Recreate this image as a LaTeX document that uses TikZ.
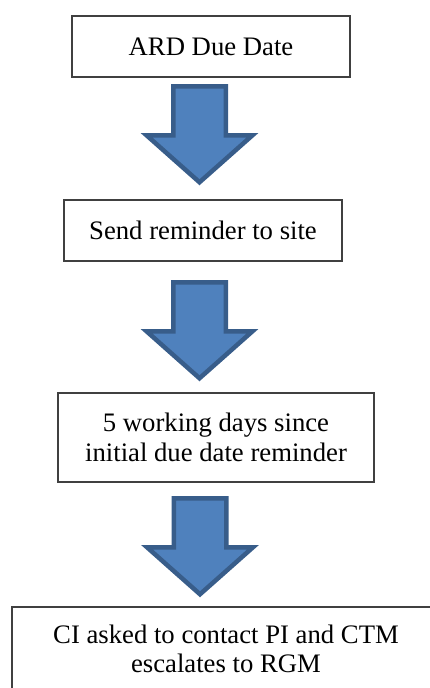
\documentclass[tikz,border=0pt]{standalone}
\usepackage{fontspec}
\setmainfont{Liberation Serif}
\begin{document}
\begin{tikzpicture}[x=1pt,y=-1pt,
  stepbox/.style={draw=black!75,line width=1.2pt,fill=white,align=center,
    inner sep=0pt,font=\fontsize{26.7}{29.5}\selectfont},
  blockarrow/.style={fill=arrowfill,draw=arrowedge,line width=4.5pt,line join=miter},
  downarrow/.pic={\path[blockarrow] (-26.25,0) -- (26.25,0) -- (26.25,49) -- (53,49)
      -- (0,96) -- (-53,49) -- (-26.25,49) -- cycle;}]
\definecolor{arrowfill}{HTML}{4F81BD}
\definecolor{arrowedge}{HTML}{385D8A}
\useasboundingbox (0,0) rectangle (430,688);
\clip (0,0) rectangle (430,688);
\fill[white] (0,0) rectangle (430,688);

% process steps
\node[stepbox,minimum width=278,minimum height=61] (due) at (211,46.5) {ARD Due Date};
\node[stepbox,minimum width=278,minimum height=61] (remind) at (203,230.5) {Send reminder to site};
\node[stepbox,minimum width=316,minimum height=89] (wait) at (216,437.5)
  {5 working days since\\initial due date reminder};
\node[stepbox,minimum width=428,minimum height=84] (escalate) at (226,649)
  {CI asked to contact PI and CTM\\escalates to RGM};

% block arrows between the steps
\coordinate (a1) at (199.5,86.25);
\coordinate (a2) at (199.5,282.25);
\coordinate (a3) at (200,498.25);
\pic at (a1) {downarrow};
\pic at (a2) {downarrow};
\pic at (a3) {downarrow};
\end{tikzpicture}
\end{document}
